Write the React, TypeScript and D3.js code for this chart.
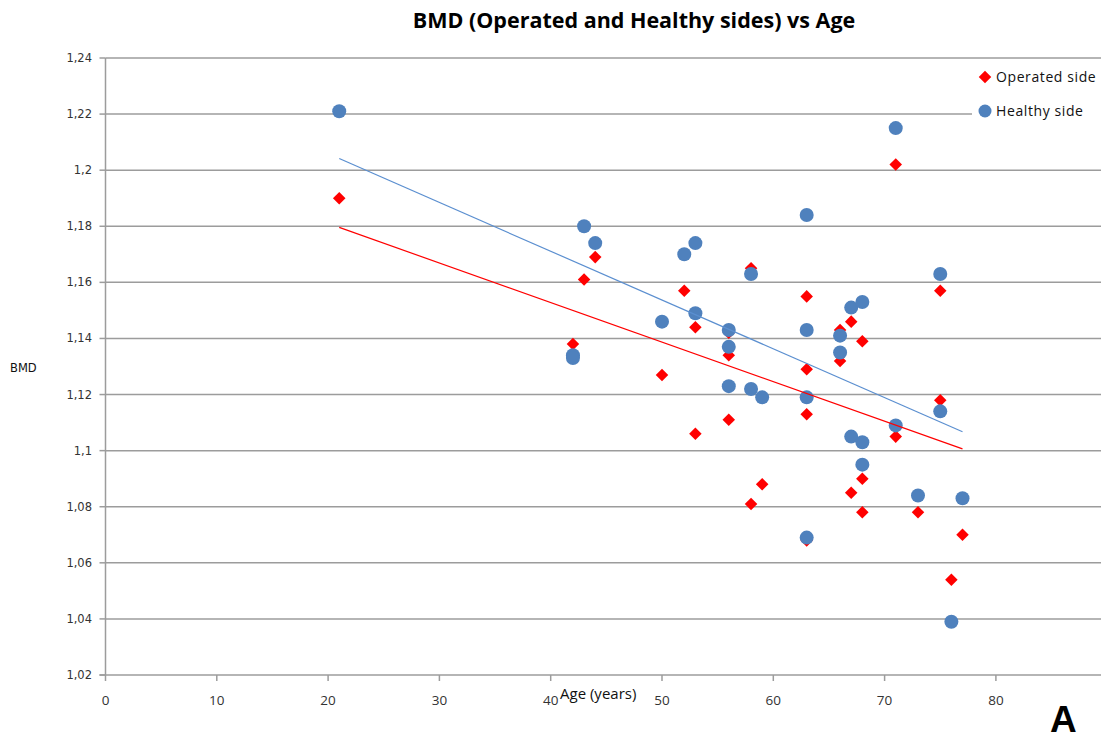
import React from "react";
import * as d3 from "d3";

const operatedAge = [21, 42, 42, 43, 44, 50, 52, 53, 53, 56, 56, 56, 58, 58, 59, 63, 63, 63, 63, 66, 66, 67, 67, 68, 68, 68, 71, 71, 73, 75, 75, 77, 76];
const operatedBmd = [1.19, 1.138, 1.133, 1.161, 1.169, 1.127, 1.157, 1.144, 1.106, 1.142, 1.134, 1.111, 1.165, 1.081, 1.088, 1.155, 1.129, 1.113, 1.068, 1.143, 1.132, 1.146, 1.085, 1.139, 1.09, 1.078, 1.202, 1.105, 1.078, 1.157, 1.118, 1.07, 1.054];

const healthyAge = [21, 43, 44, 42, 42, 50, 52, 53, 53, 56, 56, 56, 58, 58, 59, 63, 63, 63, 63, 66, 66, 67, 68, 67, 68, 68, 71, 71, 73, 75, 75, 77, 76];
const healthyBmd = [1.221, 1.18, 1.174, 1.134, 1.133, 1.146, 1.17, 1.174, 1.149, 1.143, 1.137, 1.123, 1.163, 1.122, 1.119, 1.184, 1.143, 1.119, 1.069, 1.141, 1.135, 1.151, 1.153, 1.105, 1.103, 1.095, 1.215, 1.109, 1.084, 1.163, 1.114, 1.083, 1.039];

const xTicks = [0, 10, 20, 30, 40, 50, 60, 70, 80];
const yTicks = [1.02, 1.04, 1.06, 1.08, 1.1, 1.12, 1.14, 1.16, 1.18, 1.2, 1.22, 1.24];

const title = "BMD (Operated and Healthy sides) vs Age";
const seriesNames = ["Operated side", "Healthy side"];

function fit(xs: number[], ys: number[]) {
  const mx = d3.mean(xs)!;
  const my = d3.mean(ys)!;
  let sxy = 0, sxx = 0;
  xs.forEach((x, i) => { sxy += (x - mx) * (ys[i] - my); sxx += (x - mx) * (x - mx); });
  const b = sxy / sxx;
  const a = my - b * mx;
  return (x: number) => a + b * x;
}

const RED = "#ff0000";
const BLUE = "#4f81bd";
const GRID = "#9c9c9c";
const SANS = "'Open Sans', 'DejaVu Sans', sans-serif";

export default function App() {
  const x = d3.scaleLinear().domain([0, 90]).range([105.5, 1107.2]);
  const y = d3.scaleLinear().domain([1.02, 1.24]).range([675, 58]);
  const fmt = (v: number) => String(+v.toFixed(2)).replace(".", ",");

  const opFit = fit(operatedAge, operatedBmd);
  const heFit = fit(healthyAge, healthyBmd);
  const xMin = Math.min(...operatedAge, ...healthyAge);
  const xMax = Math.max(...operatedAge, ...healthyAge);
  const line = d3.line<[number, number]>().x((d) => x(d[0])).y((d) => y(d[1]));

  const diamond = d3.symbol().type(d3.symbolDiamond2).size(100)()!;
  const x0 = x(0);

  return (
    <svg width={1101} height={740} style={{ position: "absolute", left: 0, top: 0, background: "#fff" }}>
      <rect width={1101} height={740} fill="#fff" />
      <text x={634} y={28} textAnchor="middle" fontFamily={SANS} fontWeight="bold" fontSize={21.5} fill="#000">
        {title}
      </text>

      {yTicks.map((t) => (
        <g key={t}>
          {t > 1.02 && (
            <line x1={x0} x2={t === 1.22 ? 972 : 1101} y1={y(t)} y2={y(t)} stroke={GRID} strokeWidth={1.5} />
          )}
          <line x1={x0 - 6} x2={x0} y1={y(t)} y2={y(t)} stroke={GRID} strokeWidth={1.5} />
          <text x={92} y={y(t) + 4} textAnchor="end" fontFamily="'DejaVu Sans', Verdana, sans-serif" fontSize={11.5} fill="#333">
            {fmt(t)}
          </text>
        </g>
      ))}
      <line x1={x0} x2={x0} y1={58} y2={675} stroke={GRID} strokeWidth={1.5} />
      <line x1={x0 - 6} x2={1101} y1={675} y2={675} stroke={GRID} strokeWidth={1.5} />
      {xTicks.map((t) => (
        <g key={t}>
          <line x1={x(t)} x2={x(t)} y1={675} y2={681} stroke={GRID} strokeWidth={1.5} />
          <text x={x(t)} y={705} textAnchor="middle" fontFamily={SANS} fontSize={13.5} fill="#333">
            {t}
          </text>
        </g>
      ))}

      <text x={10} y={372} fontFamily="'DejaVu Sans', Verdana, sans-serif" fontSize={11.5} fill="#111">BMD</text>
      <text x={560} y={699} fontFamily={SANS} fontSize={15} fill="#111">Age (years)</text>

      {operatedAge.map((a, i) => (
        <path key={"o" + i} d={diamond} transform={`translate(${x(a)},${y(operatedBmd[i])})`} fill={RED} />
      ))}
      {healthyAge.map((a, i) => (
        <circle key={"h" + i} cx={x(a)} cy={y(healthyBmd[i])} r={7} fill={BLUE} />
      ))}

      <path d={line([[xMin, opFit(xMin)], [xMax, opFit(xMax)]])!} stroke={RED} strokeWidth={1.2} fill="none" />
      <path d={line([[xMin, heFit(xMin)], [xMax, heFit(xMax)]])!} stroke="#5b8fd0" strokeWidth={1.2} fill="none" />

      <g>
        <path d={diamond} transform={`translate(985,77)`} fill={RED} />
        <text x={996} y={82} fontFamily={SANS} fontSize={14} letterSpacing={0.6} fill="#111">{seriesNames[0]}</text>
        <circle cx={985} cy={111} r={6.5} fill={BLUE} />
        <text x={996} y={116} fontFamily={SANS} fontSize={14} letterSpacing={0.6} fill="#111">{seriesNames[1]}</text>
      </g>

      <text x={1050} y={732} fontFamily="'Liberation Sans', Arial, sans-serif" fontWeight="bold" fontSize={37} fill="#000">A</text>
    </svg>
  );
}
